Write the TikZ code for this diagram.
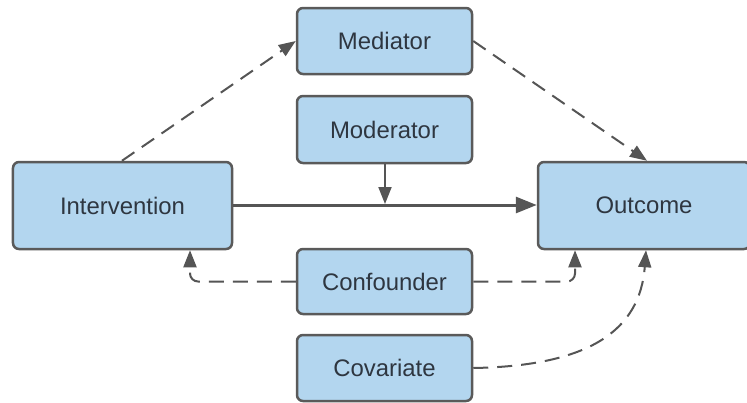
\documentclass[tikz,border=0pt]{standalone}
\usepackage{fontspec}
\setmainfont{Liberation Sans}
\usetikzlibrary{arrows.meta}

\definecolor{boxfill}{HTML}{B3D6EF}
\definecolor{boxline}{HTML}{5A5A5A}
\definecolor{linkgray}{HTML}{555555}
\definecolor{labeltext}{HTML}{2E3640}

\begin{document}
\begin{tikzpicture}[x=1bp, y=-1bp,
  block/.style={draw=boxline, line width=2.5bp, fill=boxfill, rounded corners=6bp,
    text=labeltext, font=\fontsize{24}{28}\selectfont, inner sep=0pt},
  tip/.style={-{Triangle[length=17bp, width=13bp]}},
  link/.style={draw=linkgray, line width=2bp, tip, dash pattern=on 15bp off 9bp},
  mainlink/.style={draw=linkgray, line width=3bp, -{Triangle[length=21bp, width=16bp]}},
]
\useasboundingbox (0,0) rectangle (747,402);

% variables
\node[block, minimum width=175bp, minimum height=66bp] (med) at (384.5,41) {Mediator};
\node[block, minimum width=175bp, minimum height=67bp] (mod) at (384.5,129.5) {Moderator};
\node[block, minimum width=219bp, minimum height=87bp] (int) at (122.5,205.5) {Intervention};
\node[block, minimum width=212bp, minimum height=87bp] (out) at (644,205.5) {Outcome};
\node[block, minimum width=175bp, minimum height=65bp] (con) at (384.5,281.5) {Confounder};
\node[block, minimum width=175bp, minimum height=66bp] (cov) at (384.5,368) {Covariate};

% anchor points on the box borders
\coordinate (intTop) at (int.north -| 122,0);
\coordinate (medL) at (med.west);
\coordinate (medR) at (med.east);
\coordinate (outTopIn) at (out.north -| 647,0);
\coordinate (intBot) at (int.south -| 190,0);
\coordinate (outBotA) at (out.south -| 575,0);
\coordinate (outBotB) at (out.south -| 646,0);
\coordinate (modStem) at (mod.south -| 385,0);
\coordinate (hit) at (385,204);

% direct effect
\draw[mainlink] (int.east |- 0,205) -- (out.west |- 0,205);
% moderation onto the direct effect
\draw[draw=linkgray, line width=2bp, tip] (modStem) -- (hit);
% mediation path
\draw[link] (intTop) -- (medL);
\draw[link] (medR) -- (outTopIn);
% confounding paths
\draw[link, rounded corners=8bp] (con.west) -| (intBot);
\draw[link, rounded corners=8bp] (con.east) -| (outBotA);
% covariate
\draw[link] (cov.east) .. controls (590,366) and (640,330) .. (outBotB);
\end{tikzpicture}
\end{document}
